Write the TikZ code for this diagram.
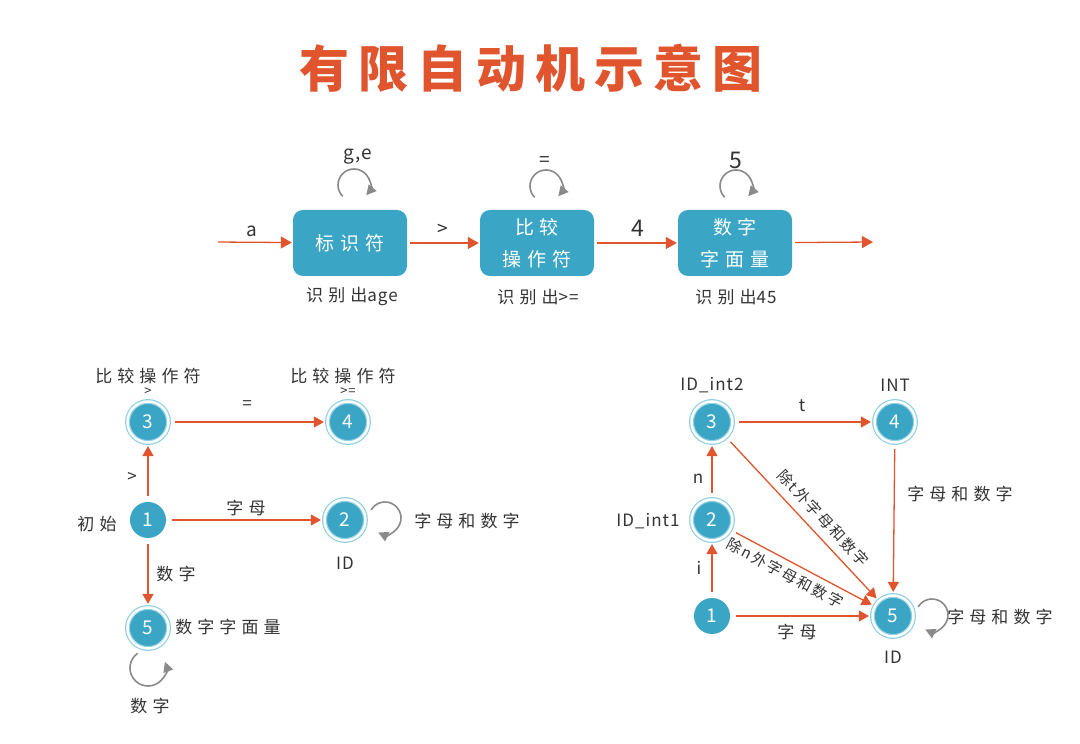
\documentclass[tikz,border=0pt]{standalone}
\usepackage{fontspec}
\setmainfont{Noto Sans CJK SC}
\newfontfamily\hand{Noto Sans CJK SC}[LetterSpace=30]
\newfontfamily\dhand{Noto Sans CJK SC}[LetterSpace=14]
\newfontfamily\latf{Noto Sans CJK SC}[LetterSpace=6]
\newfontfamily\ttl{Noto Sans CJK SC}[LetterSpace=18]
\usetikzlibrary{arrows.meta}
\definecolor{teal0}{HTML}{3AA5C5}
\definecolor{ring0}{HTML}{8FD0E0}
\definecolor{org}{HTML}{E0552D}
\definecolor{txt}{HTML}{333333}
\definecolor{gry}{HTML}{8A8A8A}
\begin{document}
\begin{tikzpicture}[x=1pt,y=1pt,
 every node/.style={text=txt},
 box/.style={fill=teal0, rounded corners=10pt, minimum width=114pt, minimum height=66pt, text=white, align=center, font=\hand\fontsize{19}{32}\selectfont},
 st/.style={circle, fill=teal0, text=white, minimum size=36pt, inner sep=0pt, font=\latf\fontsize{19}{19}\selectfont},
 acc/.style={st, minimum size=41pt, draw=ring0, line width=1.2pt, double=white, double distance=2.5pt},
 arr/.style={draw=org, line width=1.3pt, -{Triangle[length=10pt,width=11pt]}, shorten >=3pt, shorten <=6pt},
 tarr/.style={draw=org, line width=1.3pt, -{Triangle[length=11pt,width=12pt]}, shorten >=1pt, shorten <=3pt},
 lp/.style={draw=gry, line width=1.6pt, -{Triangle[length=10pt,width=10pt]}},
 lbl/.style={font=\hand\fontsize{17}{17}\selectfont},
 llbl/.style={font=\latf\fontsize{17}{17}\selectfont},
 blbl/.style={font=\latf\fontsize{19}{19}\selectfont},
 dlbl/.style={font=\dhand\fontsize{15}{15}\selectfont, sloped, inner sep=1pt},
]
\useasboundingbox (0,0) rectangle (1080,744);
\fill[white] (0,0) rectangle (1080,744);

% title
\node[text=org, font=\ttl\bfseries\fontsize{50}{50}\selectfont] (title) at (531,676) {有限自动机示意图};

% ---------- top row ----------
\node[box] (b1) at (350,501) {标识符};
\node[box] (b2) at (537,501) {比较\\操作符};
\node[box] (b3) at (735,501) {数字\\字面量};
\coordinate (s0) at (215,502);
\coordinate (e0) at (874,502);
\draw[tarr] (s0) -- (b1);
\draw[tarr] (b1) -- (b2);
\draw[tarr] (b2) -- (b3);
\draw[tarr] (b3) -- (e0);
\node[blbl] (la) at (252,513) {a};
\node[blbl] (lg) at (443,514) {>};
\node[font=\latf\fontsize{23}{23}\selectfont] (l4) at (638,516) {4};

\coordinate (lc1) at (354,559);
\coordinate (lc2) at (546,558);
\coordinate (lc3) at (736,558);
\draw[lp] (lc1) ++(225:16) arc[start angle=225, end angle=-40, radius=16];
\draw[lp] (lc2) ++(225:16) arc[start angle=225, end angle=-40, radius=16];
\draw[lp] (lc3) ++(225:16) arc[start angle=225, end angle=-40, radius=16];
\node[blbl] (lge) at (358,587) {g,e};
\node[blbl] (leq) at (545,582) {=};
\node[font=\latf\fontsize{23}{23}\selectfont] (l5) at (736,584) {5};

\node[lbl] (o1) at (352,447) {识别出{\latf age}};
\node[lbl] (o2) at (538,447) {识别出{\latf >=}};
\node[lbl] (o3) at (736,447) {识别出{\latf 45}};

% ---------- bottom left ----------
\node[st]  (L1) at (148,224) {1};
\node[acc] (L3) at (148,322) {3};
\node[acc] (L4) at (348,322) {4};
\node[acc] (L2) at (345,224) {2};
\node[acc] (L5) at (148,116) {5};

\draw[arr] (L3) -- (L4);
\draw[arr] (L1) -- (L3);
\draw[arr] (L1) -- (L2);
\draw[arr] (L1) -- (L5);

\node[lbl] (t3) at (148,368) {比较操作符};
\node[font=\latf\fontsize{13}{13}\selectfont, inner sep=1pt] (t3b) at (148,352) {>};
\node[lbl] (t4) at (343,368) {比较操作符};
\node[font=\latf\fontsize{13}{13}\selectfont, inner sep=1pt] (t4b) at (348,352) {>=};
\node[llbl] (e34) at (247,339) {=};
\node[llbl] (e13) at (132,267) {>};
\node[lbl] (init) at (97,220) {初始};
\node[lbl] (e12) at (246,236) {字母};
\coordinate (lcL2) at (385,226);
\draw[lp] (lcL2) ++(150:16) arc[start angle=150, end angle=-115, radius=16];
\node[lbl] (t2) at (467,223) {字母和数字};
\node[llbl] (id2) at (345,181) {ID};
\node[lbl] (e15) at (176,170) {数字};
\node[lbl] (t5) at (228,117) {数字字面量};
\coordinate (lcL5) at (148,76);
\draw[lp] (lcL5) ++(125:18) arc[start angle=125, end angle=380, radius=18];
\node[lbl] (t5b) at (150,38) {数字};

% ---------- bottom right ----------
\node[acc] (R3) at (712,322) {3};
\node[acc] (R4) at (895,322) {4};
\node[acc] (R2) at (712,224) {2};
\node[st]  (R1) at (712,128) {1};
\node[acc] (R5) at (893,128) {5};

\draw[arr] (R3) -- (R4);
\draw[arr] (R2) -- (R3);
\draw[arr] (R1) -- (R2);
\draw[arr] (R4) -- (R5);
\draw[arr] (R1) -- (R5);
\draw[arr] (R3) -- node[dlbl, above=7pt, pos=0.56] (d35) {除t外字母和数字} (R5);
\draw[arr] (R2) -- node[dlbl, below=4pt, pos=0.42] (d25) {除n外字母和数字} (R5);

\node[llbl] (n3) at (712,359) {ID\_int2};
\node[llbl] (n4) at (895,359) {INT};
\node[llbl] (n2) at (648,223) {ID\_int1};
\node[llbl] (et) at (802,338) {t};
\node[llbl] (en) at (698,265) {n};
\node[llbl] (ei) at (699,176) {i};
\node[lbl] (e45) at (960,250) {字母和数字};
\node[lbl] (e15r) at (797,112) {字母};
\coordinate (lcR5) at (932,129);
\draw[lp] (lcR5) ++(150:16) arc[start angle=150, end angle=-115, radius=16];
\node[lbl] (t5r) at (1000,127) {字母和数字};
\node[llbl] (id5) at (893,87) {ID};
\end{tikzpicture}
\end{document}
